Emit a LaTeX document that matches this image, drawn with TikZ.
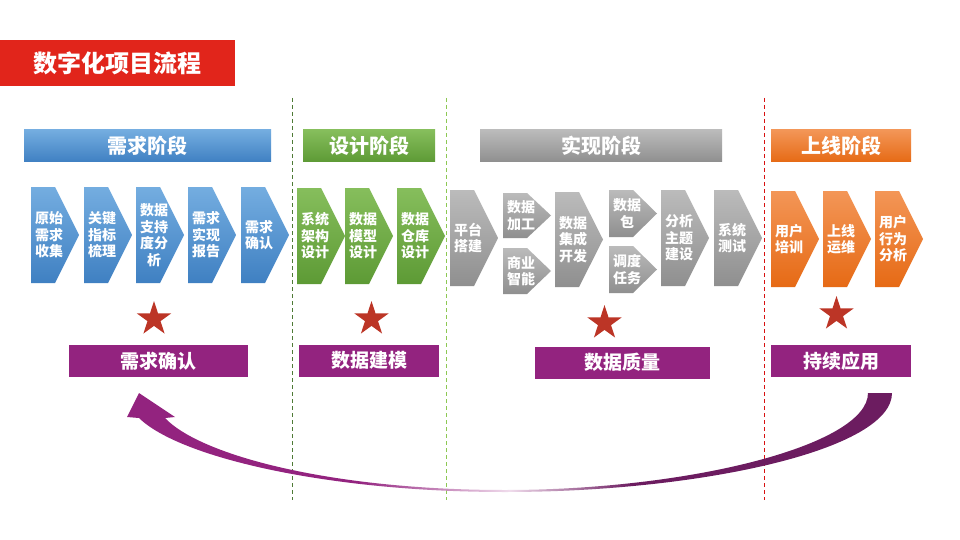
\documentclass[tikz,border=0pt]{standalone}
\usepackage{fontspec}
\setmainfont{Noto Sans CJK SC}
\usetikzlibrary{shapes.geometric}
\definecolor{titlered}{HTML}{E1251B}
\definecolor{blueT}{HTML}{74ADE0}
\definecolor{blueB}{HTML}{3F80C2}
\definecolor{greenT}{HTML}{86BE5C}
\definecolor{greenB}{HTML}{5D9A35}
\definecolor{grayT}{HTML}{BBBBBB}
\definecolor{grayB}{HTML}{8F8F8F}
\definecolor{orangeT}{HTML}{F39657}
\definecolor{orangeB}{HTML}{E66A15}
\definecolor{goalpurple}{HTML}{93237F}
\definecolor{starred}{HTML}{BC3526}
\definecolor{sepdark}{HTML}{4E7A35}
\definecolor{seplight}{HTML}{8DC853}
\definecolor{sepred}{HTML}{D81010}
\definecolor{swL}{HTML}{93237F}
\definecolor{swM}{HTML}{F0DCEC}
\definecolor{swR}{HTML}{6C1C60}
\pgfdeclarehorizontalshading{swoosh}{100bp}{color(0bp)=(swL); color(25bp)=(swL); color(40bp)=(swL); color(50bp)=(swM); color(58bp)=(swR); color(75bp)=(swR); color(100bp)=(swR)}

\begin{document}
\begin{tikzpicture}[x=1pt, y=-1pt,
  phase/.style={rectangle, top color=#1T, bottom color=#1B, minimum height=32pt, inner sep=0pt, text=white, font=\bfseries\fontsize{20}{24}\selectfont},
  chevtext/.style={text=white, align=center, inner sep=0pt, font=\bfseries\fontsize{14}{16.5}\selectfont},
  goalbox/.style={rectangle, fill=goalpurple, minimum height=32pt, inner sep=0pt, text=white, font=\bfseries\fontsize{19}{22}\selectfont},
  starmark/.style={star, star points=5, star point ratio=2.618, fill=starred, minimum size=36pt, inner sep=0pt},
  divider/.style={#1, dash pattern=on 4pt off 3pt, line width=0.8pt}
]
  \fill[white] (0,0) rectangle (960,540);
  \useasboundingbox (0,0) rectangle (960,540);
  \node[fill=titlered, minimum width=235pt, minimum height=46pt, inner sep=0pt, text=white, font=\bfseries\fontsize{24}{28}\selectfont] (title) at (117.5,63) {数字化项目流程};
  \draw[divider=sepdark] (292,98) -- (292,500);
  \draw[divider=seplight] (446,98) -- (446,500);
  \draw[divider=sepred] (764,98) -- (764,500);
  \node[phase=blue, minimum width=247pt] (reqphase) at (147.5,146) {需求阶段};
  \node[phase=green, minimum width=132pt] (designphase) at (369,146) {设计阶段};
  \node[phase=gray, minimum width=242pt] (buildphase) at (601,146) {实现阶段};
  \node[phase=orange, minimum width=140pt] (launchphase) at (841,146) {上线阶段};
  \foreach \x/\y/\h/\col/\nm/\txt in {
    31/187/96/blue/req1/{原始\\需求\\收集}, 84/187/96/blue/req2/{关键\\指标\\梳理},
    136/187/96/blue/req3/{数据\\支持\\度分\\析}, 188/187/96/blue/req4/{需求\\实现\\报告},
    241/187/96/blue/req5/{需求\\确认},
    297/188/96/green/des1/{系统\\架构\\设计}, 345/188/96/green/des2/{数据\\模型\\设计},
    397/188/96/green/des3/{数据\\仓库\\设计},
    450/190/96/gray/bld1/{平台\\搭建}, 503/193/45/gray/bld2/{数据\\加工},
    503/248/46/gray/bld3/{商业\\智能}, 555/192/95/gray/bld4/{数据\\集成\\开发},
    609/190/47/gray/bld5/{数据\\包}, 609/246/47/gray/bld6/{调度\\任务},
    661/190/96/gray/bld7/{分析\\主题\\建设}, 714/190/96/gray/bld8/{系统\\测试},
    771/191/96/orange/run1/{用户\\培训}, 823/191/96/orange/run2/{上线\\运维},
    875/191/96/orange/run3/{用户\\行为\\分析}} {
    \shade[top color=\col T, bottom color=\col B] (\x,\y) -- ++(24,0) -- ++(24,\h/2) -- ++(-24,\h/2) -- ++(-24,0) -- cycle;
    \node[chevtext] (\nm) at (\x+18,\y+\h/2) {\txt};
  }
  \node[starmark] (star1) at (154,319) {};
  \node[starmark] (star2) at (371.5,319) {};
  \node[starmark] (star3) at (604.5,323) {};
  \node[starmark] (star4) at (836.5,314) {};
  \node[goalbox, minimum width=179pt] (reqgoal) at (158.5,361) {需求确认};
  \node[goalbox, minimum width=140pt] (desgoal) at (369,360.5) {数据建模};
  \node[goalbox, minimum width=175pt] (bldgoal) at (622.5,362.5) {数据质量};
  \node[goalbox, minimum width=140pt] (rungoal) at (841,361) {持续应用};
  \shade[shading=swoosh] (892,393) .. controls (892,450) and (700,492) .. (505,492)
    .. controls (330,492) and (180,458) .. (139,418) -- (127,417) -- (139,393) -- (175,417) -- (165,418)
    .. controls (200,455) and (330,490) .. (505,490) .. controls (690,490) and (868,445) .. (868,393) -- cycle;
\end{tikzpicture}
\end{document}
